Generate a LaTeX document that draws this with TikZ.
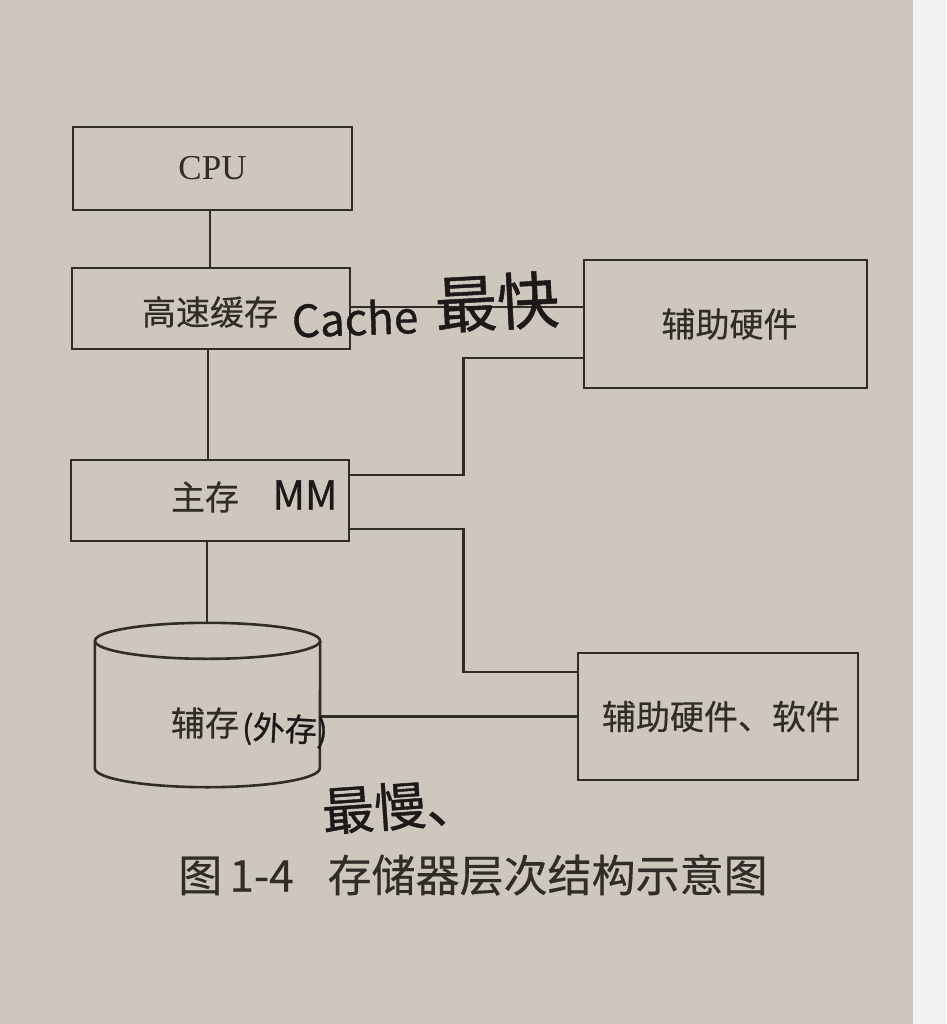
\documentclass[tikz,border=0pt]{standalone}
\usepackage{fontspec}
\setmainfont{Liberation Serif}
\newfontfamily\cjk[FakeBold=0.4]{Noto Sans CJK SC}
\newfontfamily\handfont[FakeBold=0.8]{Noto Sans CJK SC}
\definecolor{paper}{RGB}{206,199,189}
\definecolor{strip}{RGB}{242,242,242}
\definecolor{ink}{RGB}{48,44,40}
\definecolor{pen}{RGB}{28,25,24}
\tikzset{
  box/.style={draw=ink, line width=2.6pt, rectangle, inner sep=0pt, text=ink},
  wire/.style={draw=ink, line width=2.6pt},
  lbl/.style={inner sep=0pt, text=ink},
  hand/.style={inner sep=0pt, text=pen}
}
\begin{document}
\begin{tikzpicture}[x=1pt,y=-1pt]
\fill[paper] (0,0) rectangle (913,1024);
\fill[strip] (913,0) rectangle (946,1024);
\useasboundingbox (0,0) rectangle (946,1024);

% boxes
\node[box, minimum width=279pt, minimum height=83pt, font=\fontsize{35}{35}\selectfont] (cpu) at (212.5,168.5) {CPU};
\node[box, minimum width=278pt, minimum height=81pt] (cache) at (211,308.5) {};
\node[lbl, font=\cjk\fontsize{34}{34}\selectfont] (cachetext) at (210,312) {高速缓存};
\node[box, minimum width=278pt, minimum height=81pt] (main) at (210,500.5) {};
\node[lbl, font=\cjk\fontsize{34}{34}\selectfont] (maintext) at (205,497) {主存};
\node[box, minimum width=283pt, minimum height=128pt, font=\cjk\fontsize{34}{34}\selectfont] (aux) at (725.5,324) {\hspace*{8pt}辅助硬件};
\node[box, minimum width=280pt, minimum height=127pt, font=\cjk\fontsize{34}{34}\selectfont] (auxsw) at (718,716.5) {\hspace*{6pt}辅助硬件、软件};

% disk (cylinder)
\node[inner sep=0pt, minimum width=225pt, minimum height=127pt] (disk) at (207.5,704.5) {};
\coordinate (disktop) at ([yshift=18pt]disk.north);
\draw[wire] (disk.north west) -- (disk.south west)
  arc[start angle=180, end angle=360, x radius=112.5pt, y radius=19pt] -- (disk.north east);
\draw[wire] (disk.north) ellipse [x radius=112.5pt, y radius=18pt];
\node[lbl, font=\cjk\fontsize{34}{34}\selectfont] (disktext) at (205,723) {辅存};

% connectors
\draw[wire] (cpu.south -| cache.north) ++(-1,0) coordinate (c1) -- (c1 |- cache.north);
\draw[wire] ([xshift=-3pt]cache.south) -- ([xshift=-3pt]cache.south |- main.north);
\draw[wire] ([yshift=1.5pt]cache.east) -- ([yshift=1.5pt]cache.east -| aux.west);
\draw[wire] ([yshift=25.5pt]main.east) -| ([xshift=-119pt,yshift=-34pt]aux.west) -- ([yshift=-34pt]aux.west);
\draw[wire] ([yshift=-28.5pt]main.east) -| ([xshift=-113pt,yshift=44.5pt]auxsw.west) -- ([yshift=44.5pt]auxsw.west);
\draw[wire] (auxsw.west -| disk.east) -- (auxsw.west);
\draw[wire] ([xshift=-3pt]main.south) -- ([xshift=-3pt]main.south |- disktop);

% handwritten notes
\node[hand, font=\handfont\fontsize{44}{44}\selectfont, rotate=2] (hcache) at (355,318) {Cache};
\node[hand, font=\handfont\fontsize{62}{62}\selectfont, rotate=3] (hfast) at (497,302) {最快};
\node[hand, font=\handfont\fontsize{40}{40}\selectfont] (hmm) at (305,495) {MM};
\node[hand, anchor=west, font=\handfont\fontsize{32}{32}\selectfont, rotate=-3] (hout) at (242,728) {(外存)};
\node[hand, font=\handfont\fontsize{52}{52}\selectfont, rotate=4] (hslow) at (400,806) {最慢、};

% caption
\node[lbl, anchor=west, font=\cjk\fontsize{44}{44}\selectfont] (cap) at (178,875) {图\,1-4\hspace{34pt}存储器层次结构示意图};
\end{tikzpicture}
\end{document}
